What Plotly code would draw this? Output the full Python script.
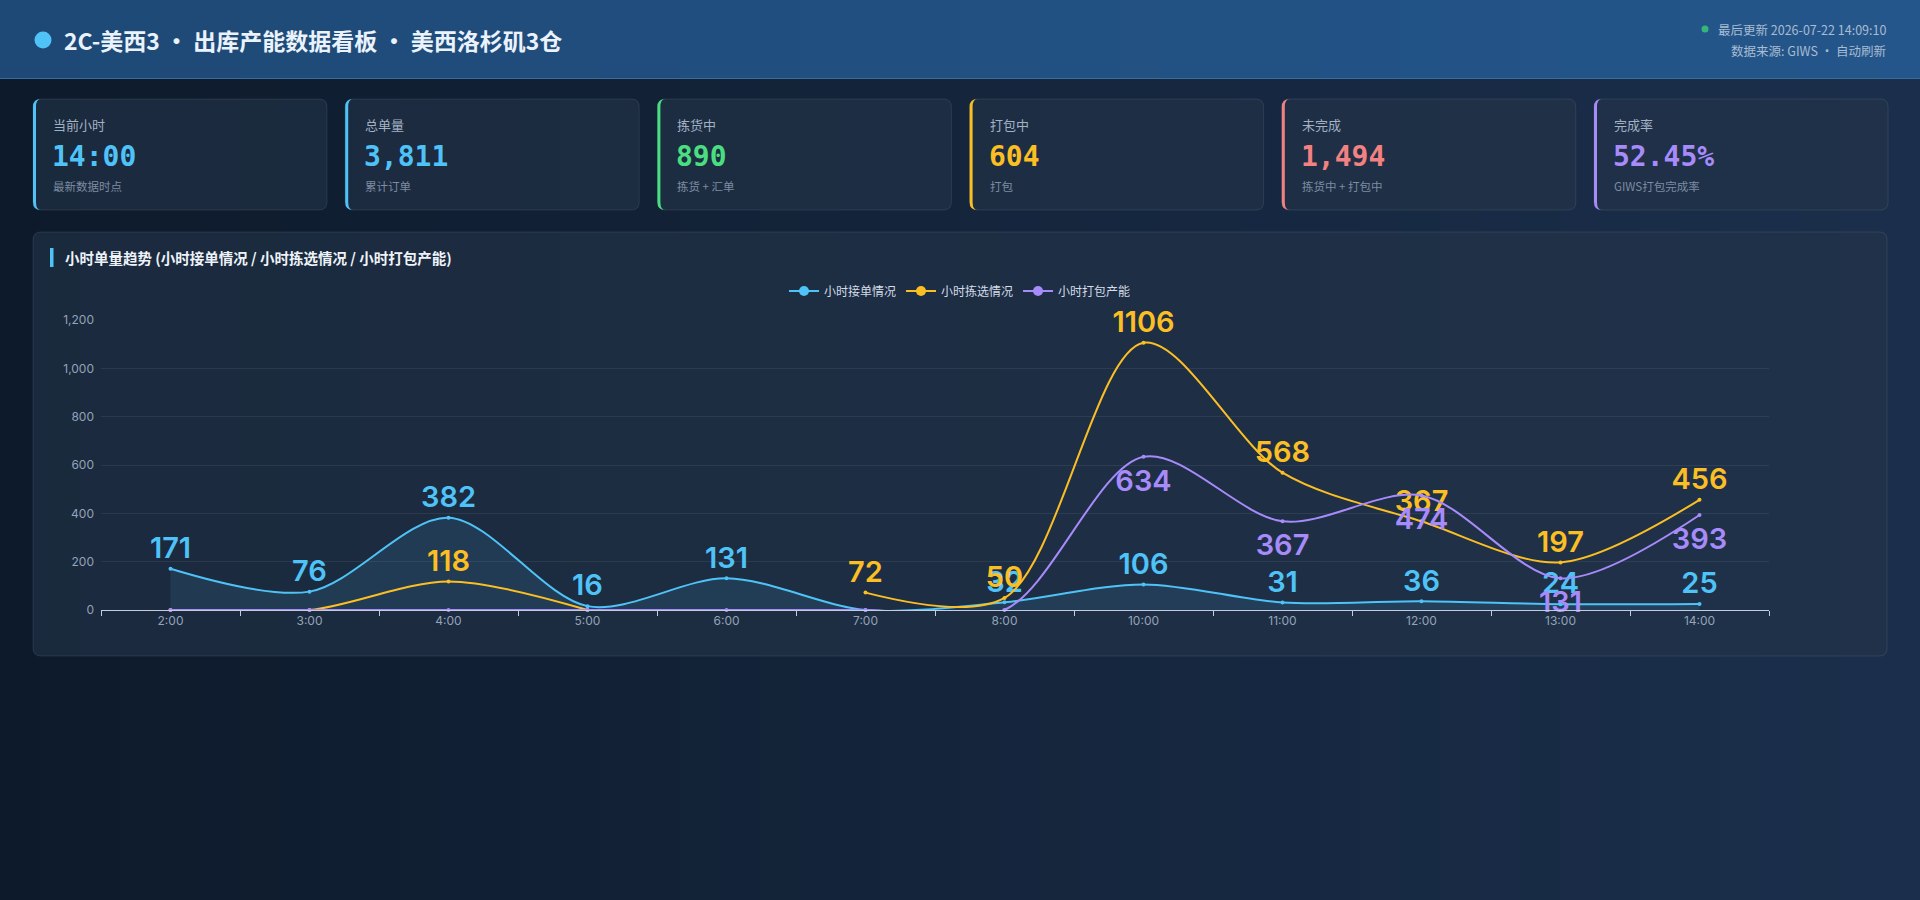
import plotly.graph_objects as go

# ---------------- data ----------------
hours = ['2:00', '3:00', '4:00', '5:00', '6:00', '7:00', '8:00', '10:00', '11:00', '12:00', '13:00', '14:00']
orders = [171, 76, 382, 16, 131, 0, 32, 106, 31, 36, 24, 25]          # 小时接单情况
picks = [0, 0, 118, 0, None, 72, 50, 1106, 568, 367, 197, 456]        # 小时拣选情况
packs = [0, 0, 0, 0, 0, 0, 0, 634, 367, 474, 131, 393]                # 小时打包产能
series_names = ['小时接单情况', '小时拣选情况', '小时打包产能']
y_ticks = [0, 200, 400, 600, 800, 1000, 1200]

card_labels = ['当前小时', '总单量', '拣货中', '打包中', '未完成', '完成率']
card_values = ['14:00', '3,811', '890', '604', '1,494', '52.45%']
card_subs = ['最新数据时点', '累计订单', '拣货 + 汇单', '打包', '拣货中 + 打包中', 'GIWS打包完成率']

title_text = '2C-美西3 · 出库产能数据看板 · 美西洛杉矶3仓'
update_text = '最后更新 2026-07-22 14:09:10'
source_text = '数据来源: GIWS · 自动刷新'
chart_title = '小时单量趋势 (小时接单情况 / 小时拣选情况 / 小时打包产能)'

# ---------------- style ----------------
W, H = 1920, 900
BLUE, YELLOW, PURPLE = '#4fc3f7', '#fbbf24', '#a78bfa'
card_colors = ['#4fc3f7', '#4fc3f7', '#4ade80', '#fbbf24', '#f38181', '#a78bfa']
FONT = 'Noto Sans CJK SC'


def X(px):
    return px / W


def Y(py):
    return 1 - py / H


def mix(c0, c1, t):
    return 'rgb({},{},{})'.format(*[round(a + (b - a) * t) for a, b in zip(c0, c1)])


def rrect_path(x0, y0, x1, y1, r):
    a, b, c, d = X(x0), X(x1), Y(y0), Y(y1)
    rx, ry = r / W, r / H
    return (f'M {a+rx},{c} L {b-rx},{c} Q {b},{c} {b},{c-ry} L {b},{d+ry} Q {b},{d} {b-rx},{d} '
            f'L {a+rx},{d} Q {a},{d} {a},{d+ry} L {a},{c-ry} Q {a},{c} {a+rx},{c} Z')


def stripe_path(x0, y0, y1, r, w):
    a, aw, c, d = X(x0), X(x0 + w), Y(y0), Y(y1)
    rx, ry = r / W, r / H
    return (f'M {a+rx},{c} Q {a},{c} {a},{c-ry} L {a},{d+ry} Q {a},{d} {a+rx},{d} '
            f'Q {aw},{d} {aw},{d+ry} L {aw},{c-ry} Q {aw},{c} {a+rx},{c} Z')


shapes = []
annotations = []

# page background gradient (left dark -> right lighter)
NSTR = 48
bg0, bg1 = (13, 26, 43), (27, 47, 76)
hd0, hd1 = (30, 73, 118), (36, 86, 139)
for k in range(NSTR):
    t = (k + 0.5) / NSTR
    xa, xb = k / NSTR, (k + 1) / NSTR + 0.0005
    shapes.append(dict(type='rect', xref='paper', yref='paper', x0=xa, x1=xb, y0=0, y1=Y(78),
                       fillcolor=mix(bg0, bg1, t), line=dict(width=0), layer='below'))
    shapes.append(dict(type='rect', xref='paper', yref='paper', x0=xa, x1=xb, y0=Y(78), y1=1,
                       fillcolor=mix(hd0, hd1, t), line=dict(width=0), layer='below'))

# header
shapes.append(dict(type='line', xref='paper', yref='paper', x0=0, x1=1, y0=Y(78.5), y1=Y(78.5),
                   line=dict(color='#3b6d9c', width=1), layer='below'))
shapes.append(dict(type='circle', xref='paper', yref='paper', x0=X(34.5), x1=X(51.5), y0=Y(48.5), y1=Y(31.5),
                   fillcolor=BLUE, line=dict(width=0), layer='below'))
annotations.append(dict(text=f'<b>{title_text}</b>', x=X(62), y=Y(40), xref='paper', yref='paper',
                        xanchor='left', yanchor='middle', showarrow=False,
                        font=dict(family=FONT, size=23, color='#eaf2fb')))
shapes.append(dict(type='circle', xref='paper', yref='paper', x0=X(1701.5), x1=X(1708.5), y0=Y(32.5), y1=Y(25.5),
                   fillcolor='#35b57a', line=dict(width=0), layer='below'))
annotations.append(dict(text=update_text, x=X(1888), y=Y(29), xref='paper', yref='paper',
                        xanchor='right', yanchor='middle', showarrow=False,
                        font=dict(family=FONT, size=12.5, color='#a8bcd2')))
annotations.append(dict(text=source_text, x=X(1888), y=Y(50), xref='paper', yref='paper',
                        xanchor='right', yanchor='middle', showarrow=False,
                        font=dict(family=FONT, size=12.5, color='#a8bcd2')))

PANEL_FILL = 'rgba(36,52,72,0.62)'
PANEL_LINE = 'rgba(255,255,255,0.09)'

# cards
card_w = 294
for i in range(6):
    x0 = 33 + i * 312.2
    x1 = x0 + card_w
    shapes.append(dict(type='path', xref='paper', yref='paper', path=rrect_path(x0, 99, x1, 210, 8),
                       fillcolor=PANEL_FILL, line=dict(color=PANEL_LINE, width=1), layer='below'))
    shapes.append(dict(type='path', xref='paper', yref='paper', path=stripe_path(x0, 99, 210, 8, 3),
                       fillcolor=card_colors[i], line=dict(width=0), layer='below'))
    annotations.append(dict(text=card_labels[i], x=X(x0 + 18), y=Y(125), xref='paper', yref='paper',
                            xanchor='left', yanchor='middle', showarrow=False,
                            font=dict(family=FONT, size=13, color='#a3b1c4')))
    annotations.append(dict(text=f'<b>{card_values[i]}</b>', x=X(x0 + 17), y=Y(157), xref='paper', yref='paper',
                            xanchor='left', yanchor='middle', showarrow=False,
                            font=dict(family='DejaVu Sans Mono', size=28, color=card_colors[i])))
    annotations.append(dict(text=card_subs[i], x=X(x0 + 18), y=Y(186), xref='paper', yref='paper',
                            xanchor='left', yanchor='middle', showarrow=False,
                            font=dict(family=FONT, size=11.5, color='#7d8ca1')))

# chart panel
shapes.append(dict(type='path', xref='paper', yref='paper', path=rrect_path(33, 232, 1887, 656, 8),
                   fillcolor=PANEL_FILL, line=dict(color=PANEL_LINE, width=1), layer='below'))
shapes.append(dict(type='rect', xref='paper', yref='paper', x0=X(50), x1=X(53.5), y0=Y(267), y1=Y(248),
                   fillcolor=BLUE, line=dict(width=0), layer='below'))
annotations.append(dict(text=f'<b>{chart_title}</b>', x=X(63), y=Y(258), xref='paper', yref='paper',
                        xanchor='left', yanchor='middle', showarrow=False,
                        font=dict(family=FONT, size=14.5, color='#eef3f9')))

fig = go.Figure()


def labels(vals):
    return ['' if (v is None or v == 0) else str(v) for v in vals]


LBL = dict(family='Inter', size=29, weight=600)
fig.add_trace(go.Scatter(
    x=hours, y=orders, mode='lines+markers+text', line=dict(color=BLUE, width=2, shape='spline', smoothing=0.9),
    marker=dict(size=4, color=BLUE), fill='tozeroy', fillcolor='rgba(79,195,247,0.11)',
    text=labels(orders), textposition='top center', cliponaxis=False,
    textfont=dict(color=BLUE, **LBL), showlegend=False, name=series_names[0]))
fig.add_trace(go.Scatter(
    x=hours, y=picks, mode='lines+markers+text', line=dict(color=YELLOW, width=2, shape='spline', smoothing=0.9),
    marker=dict(size=4, color=YELLOW), connectgaps=False,
    text=labels(picks), textposition='top center', cliponaxis=False,
    textfont=dict(color=YELLOW, **LBL), showlegend=False, name=series_names[1]))
fig.add_trace(go.Scatter(
    x=hours, y=packs, mode='lines+markers', line=dict(color=PURPLE, width=2, shape='spline', smoothing=0.9),
    marker=dict(size=4, color=PURPLE), cliponaxis=False, showlegend=False, name=series_names[2]))
# purple value labels sit a little lower under their points
fig.add_trace(go.Scatter(
    x=hours, y=packs, mode='markers+text', marker=dict(size=18, color=PURPLE, opacity=0),
    text=labels(packs), textposition='bottom center', cliponaxis=False,
    textfont=dict(color=PURPLE, **LBL), showlegend=False, name=series_names[2]))

for nm, col in zip(series_names, [BLUE, YELLOW, PURPLE]):
    fig.add_trace(go.Scatter(x=[None], y=[None], mode='lines+markers', name=nm,
                             line=dict(color=col, width=2), marker=dict(size=10, color=col)))

fig.update_layout(
    width=W, height=H, margin=dict(l=0, r=0, t=0, b=0, autoexpand=False),
    paper_bgcolor='#13233b', plot_bgcolor='rgba(0,0,0,0)',
    shapes=shapes, annotations=annotations,
    font=dict(family=FONT),
    legend=dict(orientation='h', x=0.5, xanchor='center', y=Y(291), yanchor='middle',
                font=dict(family=FONT, size=12, color='#d3dce8'), bgcolor='rgba(0,0,0,0)',
                itemwidth=30, tracegroupgap=0),
    xaxis=dict(domain=[X(101), X(1769)], type='category', range=[-0.5, len(hours) - 0.5],
               showline=True, linecolor='#c4cce0', linewidth=1, ticks='outside', tickson='boundaries',
               ticklen=5, tickcolor='#c4cce0', showgrid=False, zeroline=False,
               tickfont=dict(family='Inter', size=12, color='#94a3b8'), fixedrange=True),
    yaxis=dict(domain=[Y(610), Y(320)], range=[0, 1200], tickvals=y_ticks, tickformat=',',
               showline=False, zeroline=False, gridcolor='rgba(255,255,255,0.07)', gridwidth=1,
               tickfont=dict(family='Inter', size=12, color='#94a3b8'), ticklabelstandoff=6, fixedrange=True),
    hovermode=False,
)

post = ("document.documentElement.style.margin='0';document.documentElement.style.padding='0';"
        "document.documentElement.style.overflow='hidden';"
        "document.body.style.margin='0';document.body.style.padding='0';document.body.style.overflow='hidden';"
        "var gd=document.getElementById('{plot_id}');gd.style.position='fixed';gd.style.top='0';gd.style.left='0';")
fig.write_html('out.html', config={'displayModeBar': False}, post_script=post)
